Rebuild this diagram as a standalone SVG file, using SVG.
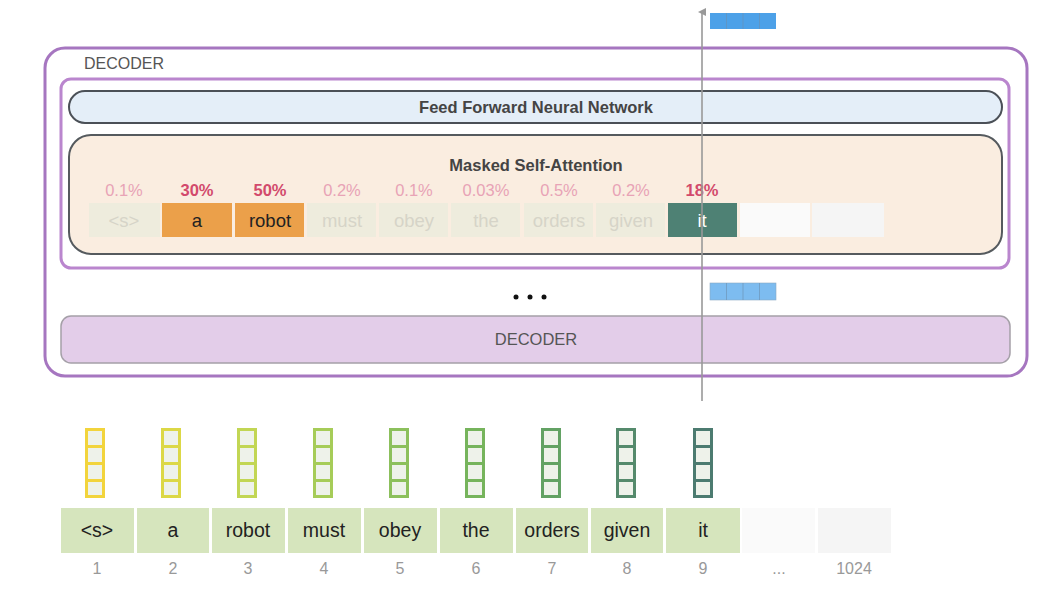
<svg xmlns="http://www.w3.org/2000/svg" width="1056" height="591" viewBox="0 0 1056 591">
<style>
text{font-family:"Liberation Sans",Arial,sans-serif;}
.lbl{font-size:16px;fill:#555;}
.title{font-size:16.5px;font-weight:bold;fill:#444;text-anchor:middle;}
.pl{font-size:16.5px;fill:#e8a3b6;text-anchor:middle;}
.pb{font-size:16.5px;fill:#d24a6c;font-weight:bold;text-anchor:middle;}
.ac{fill:#eeecdd;}
.at{font-size:18.5px;fill:#d6d4c8;text-anchor:middle;}
.tok{fill:#d6e5bd;}
.tt{font-size:19.5px;fill:#222;text-anchor:middle;}
.num{font-size:16px;fill:#999;text-anchor:middle;}
.vc{fill:#eef2ea;}
.bc{stroke:#6c8fae;stroke-width:0.6;}
</style>
<defs>
<marker id="ah" markerWidth="8" markerHeight="8" refX="4" refY="4" orient="auto" markerUnits="userSpaceOnUse">
<path d="M0,8 L4,0 L8,8 Z" fill="#999"/>
</marker>
</defs>

<g id="outer-decoder">
<rect x="45" y="48" width="982" height="328" rx="20" fill="#fff" stroke="#a676c0" stroke-width="3"/>
<text x="84" y="69" class="lbl">DECODER</text>
</g>

<g id="inner-decoder">
<rect x="61" y="79" width="948" height="189" rx="10" fill="#fff" stroke="#ba86ce" stroke-width="3"/>
</g>

<g id="ffnn">
<rect x="69" y="91" width="933" height="32" rx="16" fill="#e4eef8" stroke="#4b5057" stroke-width="2"/>
<text x="536" y="113" class="title">Feed Forward Neural Network</text>
</g>

<g id="masked-self-attention">
<rect x="69" y="135" width="933" height="119" rx="22" fill="#faede0" stroke="#555a5e" stroke-width="2"/>
<text x="536" y="171" class="title">Masked Self-Attention</text>
<text x="124" y="196" class="pl">0.1%</text>
<text x="197" y="196" class="pb">30%</text>
<text x="270" y="196" class="pb">50%</text>
<text x="342" y="196" class="pl">0.2%</text>
<text x="414" y="196" class="pl">0.1%</text>
<text x="486" y="196" class="pl">0.03%</text>
<text x="559" y="196" class="pl">0.5%</text>
<text x="631" y="196" class="pl">0.2%</text>
<text x="702" y="196" class="pb">18%</text>
<rect x="89" y="203" width="71" height="34" class="ac"/>
<rect x="162" y="203" width="70" height="34" fill="#eba04a"/>
<rect x="235" y="203" width="69" height="34" fill="#eba04a"/>
<rect x="307" y="203" width="69" height="34" class="ac"/>
<rect x="379" y="203" width="69" height="34" class="ac"/>
<rect x="451" y="203" width="69" height="34" class="ac"/>
<rect x="524" y="203" width="69" height="34" class="ac"/>
<rect x="596" y="203" width="69" height="34" class="ac"/>
<rect x="668" y="203" width="69" height="34" fill="#4e8174"/>
<rect x="740" y="203" width="70" height="34" fill="#fafafa"/>
<rect x="812" y="203" width="72" height="34" fill="#f5f5f5"/>
<text x="124" y="227" class="at">&lt;s&gt;</text>
<text x="197" y="227" class="tt" style="font-size:18.5px;fill:#222">a</text>
<text x="270" y="227" class="tt" style="font-size:18.5px;fill:#222">robot</text>
<text x="342" y="227" class="at">must</text>
<text x="414" y="227" class="at">obey</text>
<text x="486" y="227" class="at">the</text>
<text x="559" y="227" class="at">orders</text>
<text x="631" y="227" class="at">given</text>
<text x="702" y="227" class="tt" style="font-size:18.5px;fill:#fff">it</text>
</g>

<g id="ellipsis">
<circle cx="516" cy="297" r="2.5" fill="#111"/>
<circle cx="530" cy="297" r="2.5" fill="#111"/>
<circle cx="544" cy="297" r="2.5" fill="#111"/>
</g>

<g id="lower-decoder">
<rect x="61" y="316" width="949" height="47" rx="10" fill="#e3cde9" stroke="#a5a0a8" stroke-width="1.5"/>
<text x="536" y="345" text-anchor="middle" style="font-size:16.5px;fill:#555">DECODER</text>
</g>

<g id="connectors">
<line x1="702" y1="401" x2="702" y2="12" stroke="#999" stroke-width="1.6" marker-end="url(#ah)"/>
</g>

<g id="output-vector">
<rect x="710" y="13" width="66" height="16" fill="#4da1e8"/>
<line x1="726.5" y1="13" x2="726.5" y2="29" class="bc"/>
<line x1="743" y1="13" x2="743" y2="29" class="bc"/>
<line x1="759.5" y1="13" x2="759.5" y2="29" class="bc"/>
</g>

<g id="mid-vector">
<rect x="710" y="283" width="66" height="17" fill="#7dbcf0" stroke="#8aa8c4" stroke-width="0.6"/>
<line x1="726.5" y1="283" x2="726.5" y2="300" class="bc"/>
<line x1="743" y1="283" x2="743" y2="300" class="bc"/>
<line x1="759.5" y1="283" x2="759.5" y2="300" class="bc"/>
</g>

<g id="embeddings">
<g id="vec1"><rect x="85" y="428" width="20" height="70" fill="#f2d43c"/><rect x="88" y="431" width="14" height="14" class="vc"/><rect x="88" y="448" width="14" height="14" class="vc"/><rect x="88" y="465" width="14" height="14" class="vc"/><rect x="88" y="482" width="14" height="13" class="vc"/></g>
<g id="vec2"><rect x="161" y="428" width="20" height="70" fill="#dcd846"/><rect x="164" y="431" width="14" height="14" class="vc"/><rect x="164" y="448" width="14" height="14" class="vc"/><rect x="164" y="465" width="14" height="14" class="vc"/><rect x="164" y="482" width="14" height="13" class="vc"/></g>
<g id="vec3"><rect x="237" y="428" width="20" height="70" fill="#c2d654"/><rect x="240" y="431" width="14" height="14" class="vc"/><rect x="240" y="448" width="14" height="14" class="vc"/><rect x="240" y="465" width="14" height="14" class="vc"/><rect x="240" y="482" width="14" height="13" class="vc"/></g>
<g id="vec4"><rect x="313" y="428" width="20" height="70" fill="#a6cc58"/><rect x="316" y="431" width="14" height="14" class="vc"/><rect x="316" y="448" width="14" height="14" class="vc"/><rect x="316" y="465" width="14" height="14" class="vc"/><rect x="316" y="482" width="14" height="13" class="vc"/></g>
<g id="vec5"><rect x="389" y="428" width="20" height="70" fill="#8cc05c"/><rect x="392" y="431" width="14" height="14" class="vc"/><rect x="392" y="448" width="14" height="14" class="vc"/><rect x="392" y="465" width="14" height="14" class="vc"/><rect x="392" y="482" width="14" height="13" class="vc"/></g>
<g id="vec6"><rect x="465" y="428" width="20" height="70" fill="#76b45c"/><rect x="468" y="431" width="14" height="14" class="vc"/><rect x="468" y="448" width="14" height="14" class="vc"/><rect x="468" y="465" width="14" height="14" class="vc"/><rect x="468" y="482" width="14" height="13" class="vc"/></g>
<g id="vec7"><rect x="541" y="428" width="20" height="70" fill="#63a264"/><rect x="544" y="431" width="14" height="14" class="vc"/><rect x="544" y="448" width="14" height="14" class="vc"/><rect x="544" y="465" width="14" height="14" class="vc"/><rect x="544" y="482" width="14" height="13" class="vc"/></g>
<g id="vec8"><rect x="616" y="428" width="20" height="70" fill="#558a6c"/><rect x="619" y="431" width="14" height="14" class="vc"/><rect x="619" y="448" width="14" height="14" class="vc"/><rect x="619" y="465" width="14" height="14" class="vc"/><rect x="619" y="482" width="14" height="13" class="vc"/></g>
<g id="vec9"><rect x="693" y="428" width="20" height="70" fill="#4c7b70"/><rect x="696" y="431" width="14" height="14" class="vc"/><rect x="696" y="448" width="14" height="14" class="vc"/><rect x="696" y="465" width="14" height="14" class="vc"/><rect x="696" y="482" width="14" height="13" class="vc"/></g>
</g>

<g id="tokens">
<rect x="61" y="508" width="73" height="45" class="tok"/>
<rect x="137" y="508" width="72" height="45" class="tok"/>
<rect x="212" y="508" width="73" height="45" class="tok"/>
<rect x="288" y="508" width="73" height="45" class="tok"/>
<rect x="364" y="508" width="73" height="45" class="tok"/>
<rect x="440" y="508" width="73" height="45" class="tok"/>
<rect x="516" y="508" width="72" height="45" class="tok"/>
<rect x="591" y="508" width="72" height="45" class="tok"/>
<rect x="666" y="508" width="74" height="45" class="tok"/>
<rect x="742" y="508" width="73" height="45" fill="#fafafa"/>
<rect x="818" y="508" width="73" height="45" fill="#f5f5f5"/>
<text x="97" y="537" class="tt">&lt;s&gt;</text>
<text x="173" y="537" class="tt">a</text>
<text x="248" y="537" class="tt">robot</text>
<text x="324" y="537" class="tt">must</text>
<text x="400" y="537" class="tt">obey</text>
<text x="476" y="537" class="tt">the</text>
<text x="552" y="537" class="tt">orders</text>
<text x="627" y="537" class="tt">given</text>
<text x="703" y="537" class="tt">it</text>
<text x="97" y="574" class="num">1</text>
<text x="173" y="574" class="num">2</text>
<text x="248" y="574" class="num">3</text>
<text x="324" y="574" class="num">4</text>
<text x="400" y="574" class="num">5</text>
<text x="476" y="574" class="num">6</text>
<text x="552" y="574" class="num">7</text>
<text x="627" y="574" class="num">8</text>
<text x="703" y="574" class="num">9</text>
<text x="779" y="574" class="num">...</text>
<text x="854" y="574" class="num">1024</text>
</g>
</svg>
